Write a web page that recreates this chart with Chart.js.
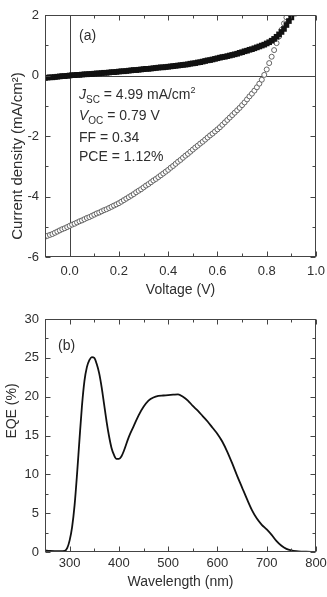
<!DOCTYPE html>
<html>
<head>
<meta charset="utf-8">
<script src="https://cdn.jsdelivr.net/npm/chart.js@4"></script>
<style>
  body { margin: 0; background: #fff; }
  canvas { display: block; }
</style>
</head>
<body>
<canvas id="jvChart" width="327" height="300"></canvas>
<canvas id="eqeChart" width="327" height="297"></canvas>
<script>
// J-V data (V, mA/cm2)
var voltage = [-0.10,-0.09,-0.08,-0.07,-0.06,-0.05,-0.04,-0.03,-0.02,-0.01,
  0.00,0.01,0.02,0.03,0.04,0.05,0.06,0.07,0.08,0.09,
  0.10,0.11,0.12,0.13,0.14,0.15,0.16,0.17,0.18,0.19,
  0.20,0.21,0.22,0.23,0.24,0.25,0.26,0.27,0.28,0.29,
  0.30,0.31,0.32,0.33,0.34,0.35,0.36,0.37,0.38,0.39,
  0.40,0.41,0.42,0.43,0.44,0.45,0.46,0.47,0.48,0.49,
  0.50,0.51,0.52,0.53,0.54,0.55,0.56,0.57,0.58,0.59,
  0.60,0.61,0.62,0.63,0.64,0.65,0.66,0.67,0.68,0.69,
  0.70,0.71,0.72,0.73,0.74,0.75,0.76,0.77,0.78,0.79,
  0.80,0.81,0.82,0.83,0.84,0.85,0.86,0.87,0.88,0.89,
  0.90,0.91];
var jLight = [-5.33,-5.30,-5.27,-5.24,-5.20,-5.16,-5.12,-5.08,-5.05,-5.01,
  -4.97,-4.93,-4.90,-4.86,-4.82,-4.79,-4.75,-4.71,-4.68,-4.64,
  -4.60,-4.56,-4.53,-4.49,-4.45,-4.42,-4.38,-4.34,-4.30,-4.26,
  -4.22,-4.17,-4.12,-4.07,-4.02,-3.97,-3.92,-3.86,-3.81,-3.76,
  -3.70,-3.64,-3.59,-3.53,-3.47,-3.42,-3.36,-3.30,-3.24,-3.18,
  -3.12,-3.05,-2.99,-2.92,-2.85,-2.79,-2.72,-2.65,-2.59,-2.52,
  -2.45,-2.38,-2.32,-2.25,-2.19,-2.12,-2.05,-1.98,-1.92,-1.85,
  -1.78,-1.71,-1.63,-1.55,-1.47,-1.39,-1.31,-1.23,-1.15,-1.07,
  -0.98,-0.89,-0.79,-0.69,-0.60,-0.50,-0.39,-0.27,-0.14,0.02,
  0.20,0.41,0.62,0.84,1.07,1.29,1.51,1.72,1.92];
var jDark = [-0.08,-0.07,-0.06,-0.06,-0.05,-0.04,-0.03,-0.02,-0.02,-0.01,
  0.00,0.01,0.01,0.02,0.02,0.03,0.04,0.04,0.05,0.05,
  0.06,0.07,0.07,0.08,0.09,0.09,0.10,0.11,0.11,0.12,
  0.13,0.14,0.14,0.15,0.16,0.17,0.18,0.18,0.19,0.20,
  0.21,0.22,0.22,0.23,0.24,0.25,0.26,0.27,0.27,0.28,
  0.29,0.30,0.31,0.32,0.33,0.34,0.35,0.36,0.37,0.39,
  0.40,0.41,0.43,0.44,0.46,0.48,0.50,0.51,0.53,0.55,
  0.57,0.59,0.61,0.62,0.64,0.66,0.68,0.70,0.72,0.75,
  0.77,0.80,0.82,0.85,0.87,0.90,0.93,0.96,0.99,1.02,
  1.06,1.10,1.15,1.21,1.28,1.36,1.44,1.54,1.67,1.80,
  1.92,2.05];
var jvTicksX = [0, 0.2, 0.4, 0.6, 0.8, 1.0];
var jvMinorX = [0.1, 0.3, 0.5, 0.7, 0.9];
var jvTicksY = [-6, -4, -2, 0, 2];
var jvMinorY = [-5, -3, -1, 1];
var jvResults = ["4.99", "0.79", "0.34", "1.12"];

// EQE data (nm, %)
var wavelength = [250,260,270,280,290,295,300,305,310,315,320,325,330,335,340,345,350,355,360,365,
  370,375,380,385,390,395,400,405,410,420,430,440,450,460,470,480,490,500,510,520,
  530,540,550,560,570,580,590,600,610,620,630,640,650,660,670,680,690,700,710,720,
  730,740,750,760,770,780,790,800];
var eqe = [0.2,0.15,0.12,0.1,0.15,0.5,1.5,3.2,6.0,10.0,14.5,18.8,22.0,23.8,24.7,25.1,25.0,24.2,23.0,21.2,
  19.0,16.8,14.9,13.4,12.5,12.0,12.0,12.3,13.0,14.8,16.2,17.6,18.7,19.5,19.9,20.1,20.15,20.2,20.25,20.3,
  20.0,19.5,18.8,18.2,17.5,16.8,16.0,15.2,14.2,12.9,11.4,9.8,8.3,6.8,5.4,4.3,3.5,2.9,2.2,1.4,
  0.8,0.4,0.2,0.1,0.05,0.03,0.02,0.02];
var eqeTicksX = [300, 400, 500, 600, 700, 800];
var eqeMinorX = [350, 450, 550, 650, 750];
var eqeTicksY = [0, 5, 10, 15, 20, 25, 30];
var eqeMinorY = [2.5, 7.5, 12.5, 17.5, 22.5, 27.5];

var FONT = "'Liberation Sans', Arial, sans-serif";
var TEXT = '#2e2e2e';
var AXIS = '#444';

// box round the plot, with inward ticks on all four sides
var framePlugin = {
  id: 'frame',
  beforeDatasetsDraw: function(chart, args, opts) {
    if (!opts.zeroLines) return;
    var ctx = chart.ctx, a = chart.chartArea;
    var x0 = Math.round(chart.scales.x.getPixelForValue(0)) + 0.5;
    var y0 = Math.round(chart.scales.y.getPixelForValue(0)) + 0.5;
    ctx.save();
    ctx.strokeStyle = AXIS;
    ctx.lineWidth = 1;
    ctx.beginPath();
    ctx.moveTo(a.left, y0); ctx.lineTo(a.right, y0);
    ctx.moveTo(x0, a.top); ctx.lineTo(x0, a.bottom);
    ctx.stroke();
    ctx.restore();
  },
  afterDatasetsDraw: function(chart, args, opts) {
    var ctx = chart.ctx, a = chart.chartArea;
    var xs = chart.scales.x, ys = chart.scales.y;
    var l = Math.round(a.left) + 0.5, r = Math.round(a.right) - 0.5;
    var t = Math.round(a.top) + 0.5, b = Math.round(a.bottom) - 0.5;
    ctx.save();
    ctx.strokeStyle = AXIS;
    ctx.lineWidth = 1;
    ctx.strokeRect(l, t, r - l, b - t);
    ctx.beginPath();
    function xTick(v, len) {
      var p = Math.round(xs.getPixelForValue(v)) + 0.5;
      ctx.moveTo(p, b); ctx.lineTo(p, b - len);
      ctx.moveTo(p, t); ctx.lineTo(p, t + len);
    }
    function yTick(v, len) {
      var p = Math.round(ys.getPixelForValue(v)) + 0.5;
      ctx.moveTo(l, p); ctx.lineTo(l + len, p);
      ctx.moveTo(r, p); ctx.lineTo(r - len, p);
    }
    opts.majorX.forEach(function(v) { xTick(v, 5); });
    opts.minorX.forEach(function(v) { xTick(v, 3); });
    opts.majorY.forEach(function(v) { yTick(v, 5); });
    opts.minorY.forEach(function(v) { yTick(v, 3); });
    ctx.stroke();
    ctx.restore();
  }
};

// panel letters, y titles and the J-V results
var notesPlugin = {
  id: 'notes',
  afterDraw: function(chart, args, opts) {
    var ctx = chart.ctx, a = chart.chartArea;
    var x = a.left + opts.dx;
    ctx.save();
    ctx.fillStyle = TEXT;
    ctx.textBaseline = 'alphabetic';
    ctx.font = '14px ' + FONT;
    ctx.fillText(opts.letter, x, a.top + opts.dy);

    // y title, placed where the original has it (not centred on the axis)
    ctx.save();
    ctx.translate(opts.yTitleX, opts.yTitleY);
    ctx.rotate(-Math.PI / 2);
    ctx.textAlign = 'center';
    ctx.textBaseline = 'middle';
    ctx.font = opts.yTitleSize + 'px ' + FONT;
    ctx.fillText(opts.yTitle, 0, 0);
    ctx.restore();

    if (opts.results) {
      var res = opts.results;
      var lines = [
        [['J', 'italic 14px', 0], ['SC', '10px', 4], [' = ' + res[0] + ' mA/cm', '14px', 0], ['2', '9px', -6]],
        [['V', 'italic 14px', 0], ['OC', '10px', 4], [' = ' + res[1] + ' V', '14px', 0]],
        [['FF = ' + res[2], '14px', 0]],
        [['PCE = ' + res[3] + '%', '14px', 0]]
      ];
      var base = [84, 105, 127, 146];
      lines.forEach(function(parts, i) {
        var cx = x;
        parts.forEach(function(p) {
          ctx.font = p[1] + ' ' + FONT;
          ctx.fillText(p[0], cx, a.top + base[i] + p[2]);
          cx += ctx.measureText(p[0]).width;
        });
      });
    }
    ctx.restore();
  }
};

function axisBase(min, max, ticks, fmt, fitFn) {
  return {
    type: 'linear',
    min: min,
    max: max,
    grid: { display: false, drawTicks: false },
    border: { display: false },
    afterBuildTicks: function(s) { s.ticks = ticks.map(function(v) { return { value: v }; }); },
    afterFit: fitFn,
    ticks: { color: TEXT, font: { family: FONT, size: 13 }, callback: fmt }
  };
}

var jvX = axisBase(-0.1, 1.0, jvTicksX, function(v) { return v.toFixed(1); },
  function(s) { s.height = 43; s.paddingLeft = 0; s.paddingRight = 0; });
jvX.ticks.padding = 7;
jvX.title = { display: true, text: 'Voltage (V)', color: TEXT, font: { family: FONT, size: 14 }, padding: { top: 0, bottom: 1 } };

var jvY = axisBase(-6, 2, jvTicksY, function(v) { return String(v); },
  function(s) { s.width = 45; });
jvY.ticks.padding = 6;

new Chart(document.getElementById('jvChart'), {
  type: 'scatter',
  data: {
    datasets: [{
      label: 'dark',
      data: jDark.map(function(j, i) { return { x: voltage[i], y: j }; }),
      pointStyle: 'rect',
      pointRadius: 4,
      backgroundColor: '#111',
      borderColor: '#111',
      borderWidth: 0,
      clip: 0
    }, {
      label: 'light',
      data: jLight.map(function(j, i) { return { x: voltage[i], y: j }; }),
      pointStyle: 'circle',
      pointRadius: 2.5,
      backgroundColor: '#fff',
      borderColor: '#555',
      borderWidth: 0.9,
      clip: 0
    }]
  },
  options: {
    responsive: false,
    animation: false,
    events: [],
    layout: { padding: { left: 0, right: 11, top: 15, bottom: 0 } },
    scales: { x: jvX, y: jvY },
    plugins: {
      legend: { display: false },
      tooltip: { enabled: false },
      frame: { zeroLines: true, majorX: jvTicksX, minorX: jvMinorX, majorY: jvTicksY, minorY: jvMinorY },
      notes: { letter: '(a)', dx: 34, dy: 25, results: jvResults,
               yTitle: 'Current density (mA/cm²)', yTitleX: 18, yTitleY: 156, yTitleSize: 15 }
    }
  },
  plugins: [framePlugin, notesPlugin]
});

var eqeX = axisBase(250, 800, eqeTicksX, function(v) { return String(v); },
  function(s) { s.height = 45; s.paddingLeft = 0; s.paddingRight = 0; });
eqeX.ticks.padding = 4;
eqeX.title = { display: true, text: 'Wavelength (nm)', color: TEXT, font: { family: FONT, size: 14 }, padding: { top: 0, bottom: 6 } };

var eqeY = axisBase(0, 30, eqeTicksY, function(v) { return String(v); },
  function(s) { s.width = 45; });
eqeY.ticks.padding = 6;

new Chart(document.getElementById('eqeChart'), {
  type: 'line',
  data: {
    datasets: [{
      label: 'EQE',
      data: wavelength.map(function(w, i) { return { x: w, y: eqe[i] }; }),
      borderColor: '#111',
      borderWidth: 1.8,
      pointRadius: 0,
      cubicInterpolationMode: 'monotone',
      fill: false
    }]
  },
  options: {
    responsive: false,
    animation: false,
    events: [],
    layout: { padding: { left: 0, right: 11, top: 19, bottom: 0 } },
    scales: { x: eqeX, y: eqeY },
    plugins: {
      legend: { display: false },
      tooltip: { enabled: false },
      frame: { zeroLines: false, majorX: eqeTicksX, minorX: eqeMinorX, majorY: eqeTicksY, minorY: eqeMinorY },
      notes: { letter: '(b)', dx: 13, dy: 31,
               yTitle: 'EQE (%)', yTitleX: 12, yTitleY: 111, yTitleSize: 14 }
    }
  },
  plugins: [framePlugin, notesPlugin]
});
</script>
</body>
</html>
